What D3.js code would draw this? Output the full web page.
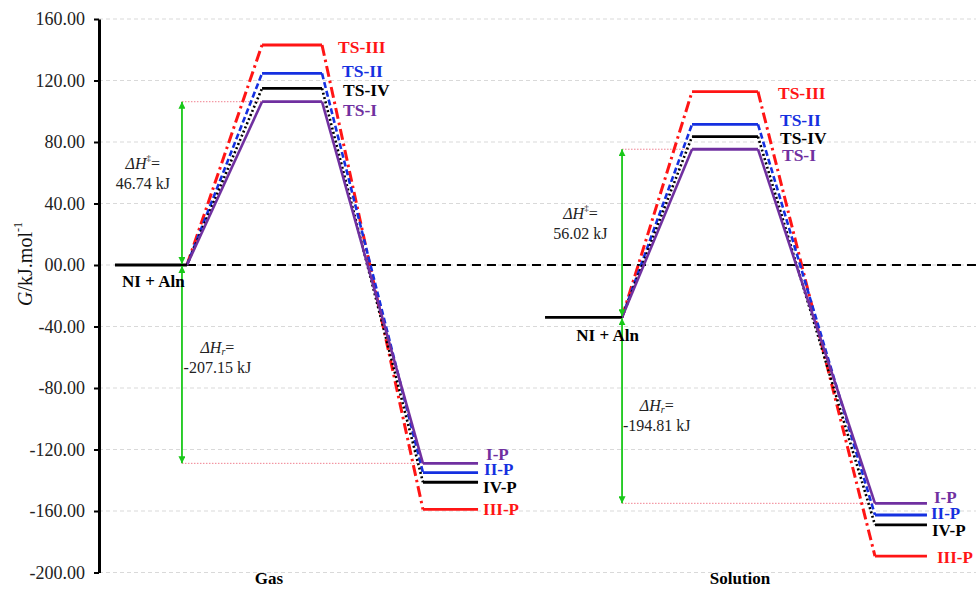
<!DOCTYPE html>
<html><head><meta charset="utf-8">
<script src="https://cdn.jsdelivr.net/npm/d3@7"></script>
<style>body{margin:0;background:#fff} svg{display:block;font-family:"Liberation Serif","Times New Roman",serif}</style>
</head><body><svg id="c" width="976" height="590"></svg>
<script>
// ---------- data ----------
const phases = ["Gas", "Solution"];
const pathways = ["TS-I", "TS-II", "TS-IV", "TS-III"];
const productNames = ["I-P", "II-P", "IV-P", "III-P"];
const reactantLabel = "NI + Aln";
const reactantG = [0, -34];
const gasTS = [106.2, 124.6, 114.9, 143.1];
const gasProducts = [-129.0, -135.0, -141.3, -159.0];
const solTS = [75.3, 91.5, 83.5, 112.7];
const solProducts = [-155.0, -162.6, -169.0, -189.3];
const barrierTexts = ["46.74 kJ", "56.02 kJ"];
const reactionTexts = ["-207.15 kJ", "-194.81 kJ"];
const yTickValues = [160, 120, 80, 40, 0, -40, -80, -120, -160, -200];
const yTickLabels = ["160.00", "120.00", "80.00", "40.00", "00.00", "-40.00", "-80.00", "-120.00", "-160.00", "-200.00"];

// ---------- layout / style ----------
const colors = ["#7030A0", "#1530E0", "#000000", "#FF1515"];
const dashes = [null, "6,3", "2,2.5", "11,4,2.5,4"];
const layout = [
  {r0: 1.82, r1: 10.03, t0: 18.59, t1: 25.43, p0: 36.94, p1: 43.22, label: 19.38, arrow: 9.46,
   tsDx: [21, 20, 21, 16], tsDy: [8, -2, 2, 2], pDx: [8, 6, 5, 5], pDy: [-9, -3, 5, 0],
   barX: 5.0, barY: [163, 183], rxnX: 13.5, rxnY: [347, 367], rLabX: 6.2, rLabY: 281},
  {r0: 50.86, r1: 59.64, t0: 67.62, t1: 75.14, p0: 88.48, p1: 94.41, label: 73.09, arrow: 59.64,
   tsDx: [24, 22, 22, 20], tsDy: [6, -4, 1, 1], pDx: [7, 4, 5, 10], pDy: [-6, -1, 6, 1],
   barX: 54.9, barY: [213, 233], rxnX: 63.6, rxnY: [405, 425], rLabX: 58.0, rLabY: 335}
];

const svg = d3.select("#c");
const x = d3.scaleLinear().domain([0, 100]).range([99, 976]);
const y = d3.scaleLinear().domain([-200, 160]).range([572.5, 19]);

// marker
const defs = svg.append("defs");
defs.append("marker").attr("id", "ah").attr("viewBox", "0 0 10 10")
  .attr("refX", 10).attr("refY", 5).attr("markerWidth", 7).attr("markerHeight", 7)
  .attr("markerUnits", "userSpaceOnUse").attr("orient", "auto-start-reverse")
  .append("path").attr("d", "M0,0 L10,5 L0,10 z").attr("fill", "#19c819");

// gridlines
svg.append("g").selectAll("line").data(yTickValues).join("line")
  .attr("x1", x(0)).attr("x2", x(100)).attr("y1", d => y(d)).attr("y2", d => y(d))
  .attr("stroke", "#d9d9d9").attr("stroke-width", 1).attr("stroke-dasharray", "4,3");

// zero reference dashed line
svg.append("line").attr("x1", x(layout[0].r1)).attr("x2", x(100))
  .attr("y1", y(0)).attr("y2", y(0)).attr("stroke", "#000").attr("stroke-width", 2.2)
  .attr("stroke-dasharray", "9,6");

const tsData = [gasTS, solTS];
const pData = [gasProducts, solProducts];

phases.forEach((ph, k) => {
  const L = layout[k];
  const ts = tsData[k], pr = pData[k], r = reactantG[k];
  const g = svg.append("g");

  // pink dotted guide lines
  g.append("line").attr("x1", x(L.arrow)).attr("x2", x(L.t0)).attr("y1", y(ts[0])).attr("y2", y(ts[0]))
    .attr("stroke", "#f08090").attr("stroke-width", 1).attr("stroke-dasharray", "1.5,1.5");
  g.append("line").attr("x1", x(L.arrow)).attr("x2", x(L.p0)).attr("y1", y(pr[0])).attr("y2", y(pr[0]))
    .attr("stroke", "#f08090").attr("stroke-width", 1).attr("stroke-dasharray", "1.5,1.5");

  // connectors (draw in reverse so TS-I on top)
  const order = [3, 1, 2, 0];
  order.forEach(i => {
    const pts = [[L.r1, r], [L.t0, ts[i]]];
    const pts2 = [[L.t1, ts[i]], [L.p0, pr[i]]];
    [pts, pts2].forEach(p => {
      g.append("path").attr("d", d3.line().x(d => x(d[0])).y(d => y(d[1]))(p))
        .attr("fill", "none").attr("stroke", colors[i]).attr("stroke-width", i === 3 ? 3 : 2.6)
        .attr("stroke-dasharray", dashes[i]);
    });
    // plateaus
    g.append("line").attr("x1", x(L.t0)).attr("x2", x(L.t1)).attr("y1", y(ts[i])).attr("y2", y(ts[i]))
      .attr("stroke", colors[i]).attr("stroke-width", 2.8);
    g.append("line").attr("x1", x(L.p0)).attr("x2", x(L.p1)).attr("y1", y(pr[i])).attr("y2", y(pr[i]))
      .attr("stroke", colors[i]).attr("stroke-width", 2.8);
  });

  // reactant level
  g.append("line").attr("x1", x(L.r0)).attr("x2", x(L.r1)).attr("y1", y(r)).attr("y2", y(r))
    .attr("stroke", "#000").attr("stroke-width", 2.8);

  // green arrows
  g.append("line").attr("x1", x(L.arrow)).attr("x2", x(L.arrow)).attr("y1", y(r) - 1).attr("y2", y(ts[0]))
    .attr("stroke", "#19c819").attr("stroke-width", 1.8)
    .attr("marker-start", "url(#ah)").attr("marker-end", "url(#ah)");
  g.append("line").attr("x1", x(L.arrow)).attr("x2", x(L.arrow)).attr("y1", y(r) + 1).attr("y2", y(pr[0]))
    .attr("stroke", "#19c819").attr("stroke-width", 1.8)
    .attr("marker-start", "url(#ah)").attr("marker-end", "url(#ah)");

  // TS and product labels
  pathways.forEach((name, i) => {
    g.append("text").attr("x", x(L.t1) + L.tsDx[i]).attr("y", y(ts[i]) + L.tsDy[i])
      .attr("dominant-baseline", "central").attr("font-size", 17.5).attr("font-weight", "bold")
      .attr("fill", colors[i]).text(name);
    g.append("text").attr("x", x(L.p1) + L.pDx[i]).attr("y", y(pr[i]) + L.pDy[i])
      .attr("dominant-baseline", "central").attr("font-size", 17).attr("font-weight", "bold")
      .attr("fill", colors[i]).text(productNames[i]);
  });

  // reactant label
  g.append("text").attr("x", x(L.rLabX)).attr("y", L.rLabY).attr("text-anchor", "middle")
    .attr("dominant-baseline", "central").attr("font-size", 17).attr("font-weight", "bold").text(reactantLabel);

  // annotations
  const t1 = g.append("text").attr("x", x(L.barX)).attr("y", L.barY[0]).attr("text-anchor", "middle")
    .attr("dominant-baseline", "central").attr("font-size", 16).attr("fill", "#222");
  t1.append("tspan").attr("font-style", "italic").text("ΔH");
  t1.append("tspan").attr("font-size", 9).attr("dy", -5).text("‡");
  t1.append("tspan").attr("dy", 5).text("=");
  g.append("text").attr("x", x(L.barX)).attr("y", L.barY[1]).attr("text-anchor", "middle")
    .attr("dominant-baseline", "central").attr("font-size", 16).attr("fill", "#222").text(barrierTexts[k]);
  const t2 = g.append("text").attr("x", x(L.rxnX)).attr("y", L.rxnY[0]).attr("text-anchor", "middle")
    .attr("dominant-baseline", "central").attr("font-size", 16).attr("fill", "#222");
  t2.append("tspan").attr("font-style", "italic").text("ΔH");
  t2.append("tspan").attr("font-style", "italic").attr("font-size", 10).attr("dy", 4).text("r");
  t2.append("tspan").attr("dy", -4).text("=");
  g.append("text").attr("x", x(L.rxnX)).attr("y", L.rxnY[1]).attr("text-anchor", "middle")
    .attr("dominant-baseline", "central").attr("font-size", 16).attr("fill", "#222").text(reactionTexts[k]);

  // phase label
  svg.append("text").attr("x", x(L.label)).attr("y", 578).attr("text-anchor", "middle")
    .attr("dominant-baseline", "central").attr("font-size", 17).attr("font-weight", "bold").text(ph);
});

// y axis
const ax = svg.append("g").attr("transform", `translate(${x(0)},0)`)
  .call(d3.axisLeft(y).tickValues(yTickValues).tickFormat((d, i) => yTickLabels[i])
    .tickSize(5).tickSizeOuter(0).tickPadding(9));
ax.select(".domain").attr("stroke", "#000").attr("stroke-width", 3);
ax.selectAll(".tick line").attr("stroke", "#000").attr("stroke-width", 2);
ax.selectAll(".tick text").attr("font-family", "Liberation Serif, serif").attr("font-size", 18).attr("fill", "#222");

// y title
const yt = svg.append("text").attr("transform", `translate(25,264) rotate(-90)`)
  .attr("text-anchor", "middle").attr("dominant-baseline", "central").attr("font-size", 20).attr("fill", "#111");
yt.append("tspan").attr("font-style", "italic").text("G");
yt.append("tspan").text("/kJ.mol");
yt.append("tspan").attr("font-size", 12).attr("dy", -7).text("-1");
</script></body></html>
